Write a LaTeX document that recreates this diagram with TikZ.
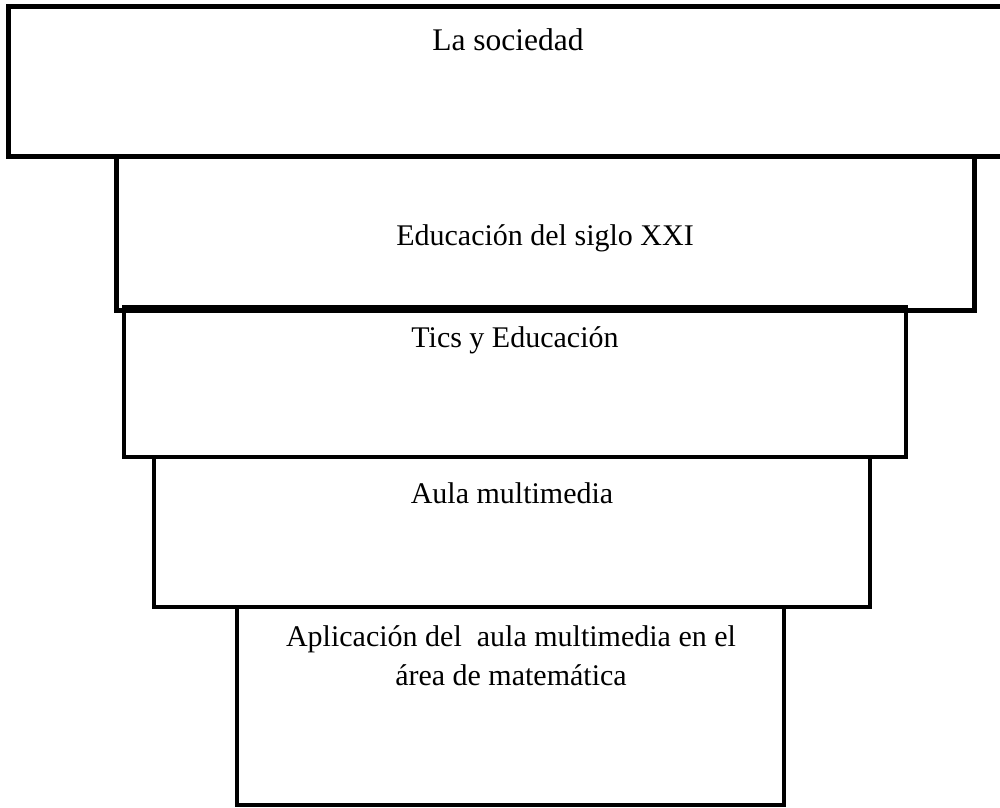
\documentclass[tikz,border=0pt]{standalone}
\usepackage{fontspec}
\setmainfont{Liberation Serif}
\begin{document}
\begin{tikzpicture}[x=1pt, y=-1pt,
    box/.style={draw, inner sep=0pt, outer sep=0pt, anchor=north west},
    lbl/.style={font=\fontsize{30}{39}\selectfont, anchor=base, inner sep=0pt, align=center}]
    \useasboundingbox (0, 0) rectangle (1000, 807);

    \node[box, line width=5pt, minimum width=1001.5pt, minimum height=150pt] (soc) at (8.5, 6.5) {};
    \node[box, line width=5pt, minimum width=858pt, minimum height=153.5pt] (edu) at (116.5, 156.5) {};
    \node[box, line width=4pt, minimum width=781.5pt, minimum height=150pt] (tics) at (124, 306.5) {};
    \node[box, line width=4pt, minimum width=716pt, minimum height=150pt] (aula) at (154, 456.5) {};
    \node[box, line width=4pt, minimum width=547.5pt, minimum height=198.5pt] (apli) at (236.5, 606.5) {};

    \node[lbl, font=\fontsize{31.5}{39}\selectfont] (socT) at (508, 50) {La sociedad};
    \node[lbl] (eduT) at (545, 245) {Educación del siglo XXI};
    \node[lbl] (ticsT) at (515, 347) {Tics y Educación};
    \node[lbl] (aulaT) at (512, 503) {Aula multimedia};
    \node[lbl] (apliT) at (511, 685) {Aplicación del~ aula multimedia en el\\área de matemática};
\end{tikzpicture}
\end{document}
